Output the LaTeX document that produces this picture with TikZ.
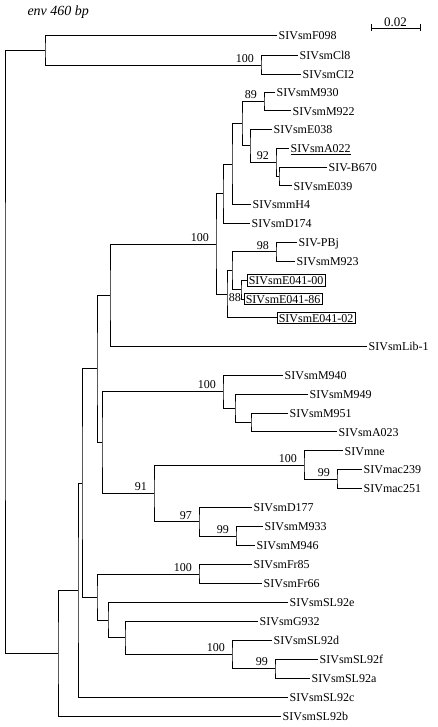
\documentclass[tikz,border=0pt]{standalone}
\usepackage{fontspec}
\setmainfont{Liberation Serif}
\usetikzlibrary{calc}

\begin{document}
\begin{tikzpicture}[
    x=1pt, y=-1pt,
    leaf/.style={anchor=west, inner sep=1.5pt, text height=8.5pt, text depth=0pt, font=\fontsize{12}{14}\selectfont},
    boxed/.style={leaf, draw, line width=0.6pt},
    bs/.style={anchor=south east, inner sep=0pt, text depth=0pt, font=\fontsize{12}{14}\selectfont, xshift=-7pt, yshift=2.5pt},
    branch/.style={line width=0.7pt}
]
\useasboundingbox (0,0) rectangle (438,727);
\node[anchor=west, font=\fontsize{14}{16}\selectfont\itshape] (title) at (24,12) {env 460 bp};
% scale bar
\coordinate (sb1) at (371,28);
\coordinate (sb2) at (420,28);
\draw[branch] (sb1) -- (sb2);
\draw[branch] ([yshift=3.5pt]sb1) -- ([yshift=-3.5pt]sb1);
\draw[branch] ([yshift=3.5pt]sb2) -- ([yshift=-3.5pt]sb2);
\node[anchor=south, inner sep=1pt, font=\fontsize{13}{15}\selectfont] (sbl) at ($(sb1)!0.5!(sb2)$) {0.02};

% leaves
\node[leaf] (f098) at (277,35) {SIVsmF098};
\node[leaf] (cl8) at (298,55.5) {SIVsmCl8};
\node[leaf] (ci2) at (301,74.3) {SIVsmCI2};
\node[leaf] (m930) at (275,92.5) {SIVsmM930};
\node[leaf] (m922) at (291,110.8) {SIVsmM922};
\node[leaf] (e038) at (272,129.25) {SIVsmE038};
\node[leaf] (a022) at (289,148.1) {\underline{SIVsmA022}};
\node[leaf] (b670) at (327,166.95) {SIV-B670};
\node[leaf] (e039) at (292,185.8) {SIVsmE039};
\node[leaf] (mmh4) at (251,204.65) {SIVsmmH4};
\node[leaf] (d174) at (250,223.5) {SIVsmD174};
\node[leaf] (pbj) at (297,242.35) {SIV-PBj};
\node[leaf] (m923) at (295,261.2) {SIVsmM923};
\node[boxed] (e0400) at (247,280.05) {SIVsmE041-00};
\node[boxed] (e0486) at (244,298.9) {SIVsmE041-86};
\node[boxed] (e0402) at (277,317.75) {SIVsmE041-02};
\node[leaf] (lib1) at (367,346) {SIVsmLib-1};
\node[leaf] (m940) at (283,375) {SIVsmM940};
\node[leaf] (m949) at (308,393.9) {SIVsmM949};
\node[leaf] (m951) at (288,412.9) {SIVsmM951};
\node[leaf] (a023) at (337,431.8) {SIVsmA023};
\node[leaf] (mne) at (343,450.8) {SIVmne};
\node[leaf] (mac239) at (362,469.7) {SIVmac239};
\node[leaf] (mac251) at (362,488.6) {SIVmac251};
\node[leaf] (d177) at (252,507.6) {SIVsmD177};
\node[leaf] (m933) at (263,526.5) {SIVsmM933};
\node[leaf] (m946) at (255,545.5) {SIVsmM946};
\node[leaf] (fr85) at (252,564.4) {SIVsmFr85};
\node[leaf] (fr66) at (262,583.3) {SIVsmFr66};
\node[leaf] (sl92e) at (288,602.3) {SIVsmSL92e};
\node[leaf] (g932) at (258,621.2) {SIVsmG932};
\node[leaf] (sl92d) at (272,640.2) {SIVsmSL92d};
\node[leaf] (sl92f) at (318,659.1) {SIVsmSL92f};
\node[leaf] (sl92a) at (310,678) {SIVsmSL92a};
\node[leaf] (sl92c) at (288,697) {SIVsmSL92c};
\node[leaf] (sl92b) at (281,716) {SIVsmSL92b};

% internal nodes
\coordinate (jroot) at (5,351);
\coordinate (jtop) at (45,50);
\coordinate (jcl) at (261,64.9);
\coordinate (jm9) at (264,101.6);
\coordinate (jbe) at (279,176.4);
\coordinate (ja22) at (276,162.2);
\coordinate (je38) at (250,145.7);
\coordinate (jm930) at (242,123.6);
\coordinate (jh4) at (232,164.1);
\coordinate (jd174) at (223,193.8);
\coordinate (jpb) at (276,251.8);
\coordinate (je41) at (241,289.5);
\coordinate (jpbe) at (232,270.6);
\coordinate (je02) at (227,294.2);
\coordinate (jsm) at (216,244);
\coordinate (jlib) at (110,295.1);
\coordinate (jm951) at (251,422.3);
\coordinate (jm949) at (235,408.1);
\coordinate (jm940) at (223,391.6);
\coordinate (jmac) at (337,479.2);
\coordinate (jmne) at (304,465);
\coordinate (jm933) at (236,536);
\coordinate (jd177) at (199,521.8);
\coordinate (j91) at (154,493.4);
\coordinate (je) at (102,442.5);
\coordinate (jf) at (97,368.8);
\coordinate (jfr) at (199,573.9);
\coordinate (jslf) at (275,668.6);
\coordinate (jsld) at (232,654.4);
\coordinate (jg932) at (125,637.8);
\coordinate (jsle) at (108,620);
\coordinate (jh) at (97,597);
\coordinate (jg) at (82,482.9);
\coordinate (jc) at (78,590);
\coordinate (jb) at (58,653);

% branches
\draw[branch] (jtop) -| (jroot) |- (jb);
\draw[branch] (f098.west) -| (jtop) |- (jcl);
\draw[branch] (cl8.west) -| (jcl) |- (ci2.west);
\draw[branch] (m930.west) -| (jm9) |- (m922.west);
\draw[branch] (b670.west) -| (jbe) |- (e039.west);
\draw[branch] (a022.west) -| (ja22) |- (jbe);
\draw[branch] (e038.west) -| (je38) |- (ja22);
\draw[branch] (jm9) -| (jm930) |- (je38);
\draw[branch] (jm930) -| (jh4) |- (mmh4.west);
\draw[branch] (jh4) -| (jd174) |- (d174.west);
\draw[branch] (pbj.west) -| (jpb) |- (m923.west);
\draw[branch] (e0400.west) -| (je41) |- (e0486.west);
\draw[branch] (jpb) -| (jpbe) |- (je41);
\draw[branch] (jpbe) -| (je02) |- (e0402.west);
\draw[branch] (jd174) -| (jsm) |- (je02);
\draw[branch] (jsm) -| (jlib) |- (lib1.west);
\draw[branch] (m951.west) -| (jm951) |- (a023.west);
\draw[branch] (m949.west) -| (jm949) |- (jm951);
\draw[branch] (m940.west) -| (jm940) |- (jm949);
\draw[branch] (mac239.west) -| (jmac) |- (mac251.west);
\draw[branch] (mne.west) -| (jmne) |- (jmac);
\draw[branch] (m933.west) -| (jm933) |- (m946.west);
\draw[branch] (d177.west) -| (jd177) |- (jm933);
\draw[branch] (jmne) -| (j91) |- (jd177);
\draw[branch] (jm940) -| (je) |- (j91);
\draw[branch] (jlib) -| (jf) |- (je);
\draw[branch] (fr85.west) -| (jfr) |- (fr66.west);
\draw[branch] (sl92f.west) -| (jslf) |- (sl92a.west);
\draw[branch] (sl92d.west) -| (jsld) |- (jslf);
\draw[branch] (g932.west) -| (jg932) |- (jsld);
\draw[branch] (sl92e.west) -| (jsle) |- (jg932);
\draw[branch] (jfr) -| (jh) |- (jsle);
\draw[branch] (jf) -| (jg) |- (jh);
\draw[branch] (jg) -| (jc) |- (sl92c.west);
\draw[branch] (jc) -| (jb) |- (sl92b.west);

% bootstrap values
\node[bs] (bcl) at (jcl) {100};
\node[bs] (bm9) at (jm9) {89};
\node[bs] (ba22) at (ja22) {92};
\node[bs] (bsm) at (jsm) {100};
\node[bs] (bpb) at (jpb) {98};
\node[bs, anchor=north east, xshift=7pt, yshift=-6.5pt] (be41) at (je41) {88};
\node[bs] (bm940) at (jm940) {100};
\node[bs] (bmne) at (jmne) {100};
\node[bs] (bmac) at (jmac) {99};
\node[bs] (b91) at (j91) {91};
\node[bs] (bd177) at (jd177) {97};
\node[bs] (bm933) at (jm933) {99};
\node[bs] (bfr) at (jfr) {100};
\node[bs] (bsld) at (jsld) {100};
\node[bs] (bslf) at (jslf) {99};
\end{tikzpicture}
\end{document}
